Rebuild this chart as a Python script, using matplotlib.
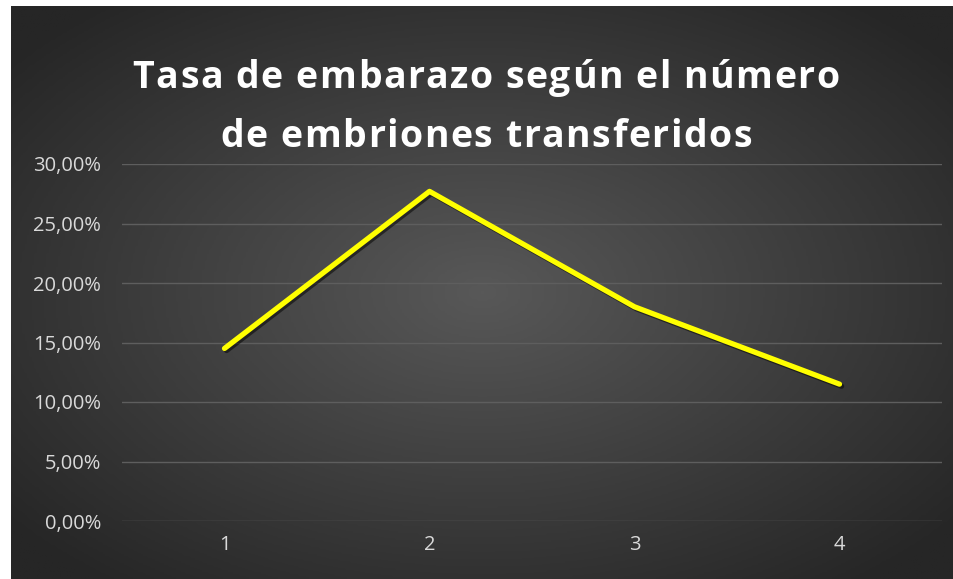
import numpy as np
import matplotlib
matplotlib.use("Agg")
import matplotlib.pyplot as plt
import matplotlib.patheffects as pe
from matplotlib.colors import LinearSegmentedColormap
from matplotlib.ticker import FuncFormatter
from matplotlib.font_manager import FontProperties, findfont
from matplotlib.ft2font import FT2Font

# data
categories = [1, 2, 3, 4]
tasa = [0.145, 0.277, 0.180, 0.115]
title_lines = ["Tasa de embarazo según el número", "de embriones transferidos"]

W, H, DPI = 954, 579, 100
fig = plt.figure(figsize=(W / DPI, H / DPI), dpi=DPI, facecolor="white")

# dark radial background
bg = fig.add_axes([11 / W, 0, 943 / W, 573 / H])
bg.set_axis_off()
gx, gy = np.meshgrid(np.linspace(-1, 1, 400), np.linspace(-1, 1, 250))
r = np.clip(np.sqrt(gx ** 2 + gy ** 2) / 1.3, 0, 1)
cmap = LinearSegmentedColormap.from_list("bg", ["#585858", "#262626"])
bg.imshow(r, cmap=cmap, aspect="auto", extent=[0, 1, 0, 1], vmin=0, vmax=1)
bg.set_xlim(0, 1)
bg.set_ylim(0, 1)

ax = fig.add_axes([122 / W, 1 - 521 / H, 820 / W, 357 / H])
ax.set_facecolor("none")

ax.plot(categories, tasa, color="#FFFF00", lw=3.8, solid_capstyle="round",
        solid_joinstyle="round", zorder=3,
        path_effects=[pe.SimpleLineShadow(offset=(1.5, -1.5), shadow_color="black", alpha=0.5),
                      pe.Normal()])

ax.set_xlim(0.5, 4.5)
ax.set_ylim(0, 0.30)
ax.set_yticks(np.arange(0, 0.301, 0.05))
ax.set_xticks(categories)
ax.yaxis.set_major_formatter(FuncFormatter(lambda v, p: f"{v * 100:.2f}%".replace(".", ",")))
ax.grid(axis="y", color="#5e5e5e", lw=1)
ax.set_axisbelow(True)
for s in ax.spines.values():
    s.set_visible(False)
ax.tick_params(length=0, colors="#d9d9d9", labelsize=14.5)
ax.tick_params(axis="y", pad=15)
ax.tick_params(axis="x", pad=10)
for lab in ax.get_xticklabels() + ax.get_yticklabels():
    lab.set_family("Open Sans")

# title with letter spacing, one character at a time
tsize, spacing = 27, 1.5
fp = FontProperties(family="Open Sans", weight="bold")
font = FT2Font(findfont(fp))
font.set_size(tsize, DPI)


def advance(ch):
    return font.load_char(ord(ch)).linearHoriAdvance / 65536


for line, base in zip(title_lines, [88, 147]):
    adv = [advance(c) + spacing for c in line]
    total = sum(adv) - spacing
    x = 486 - total / 2
    for c, a in zip(line, adv):
        if c != " ":
            fig.text(x / W, 1 - base / H, c, ha="left", va="baseline", color="white",
                     fontsize=tsize, fontproperties=fp)
        x += a

fig.savefig("out.png", dpi=DPI, facecolor="white")
